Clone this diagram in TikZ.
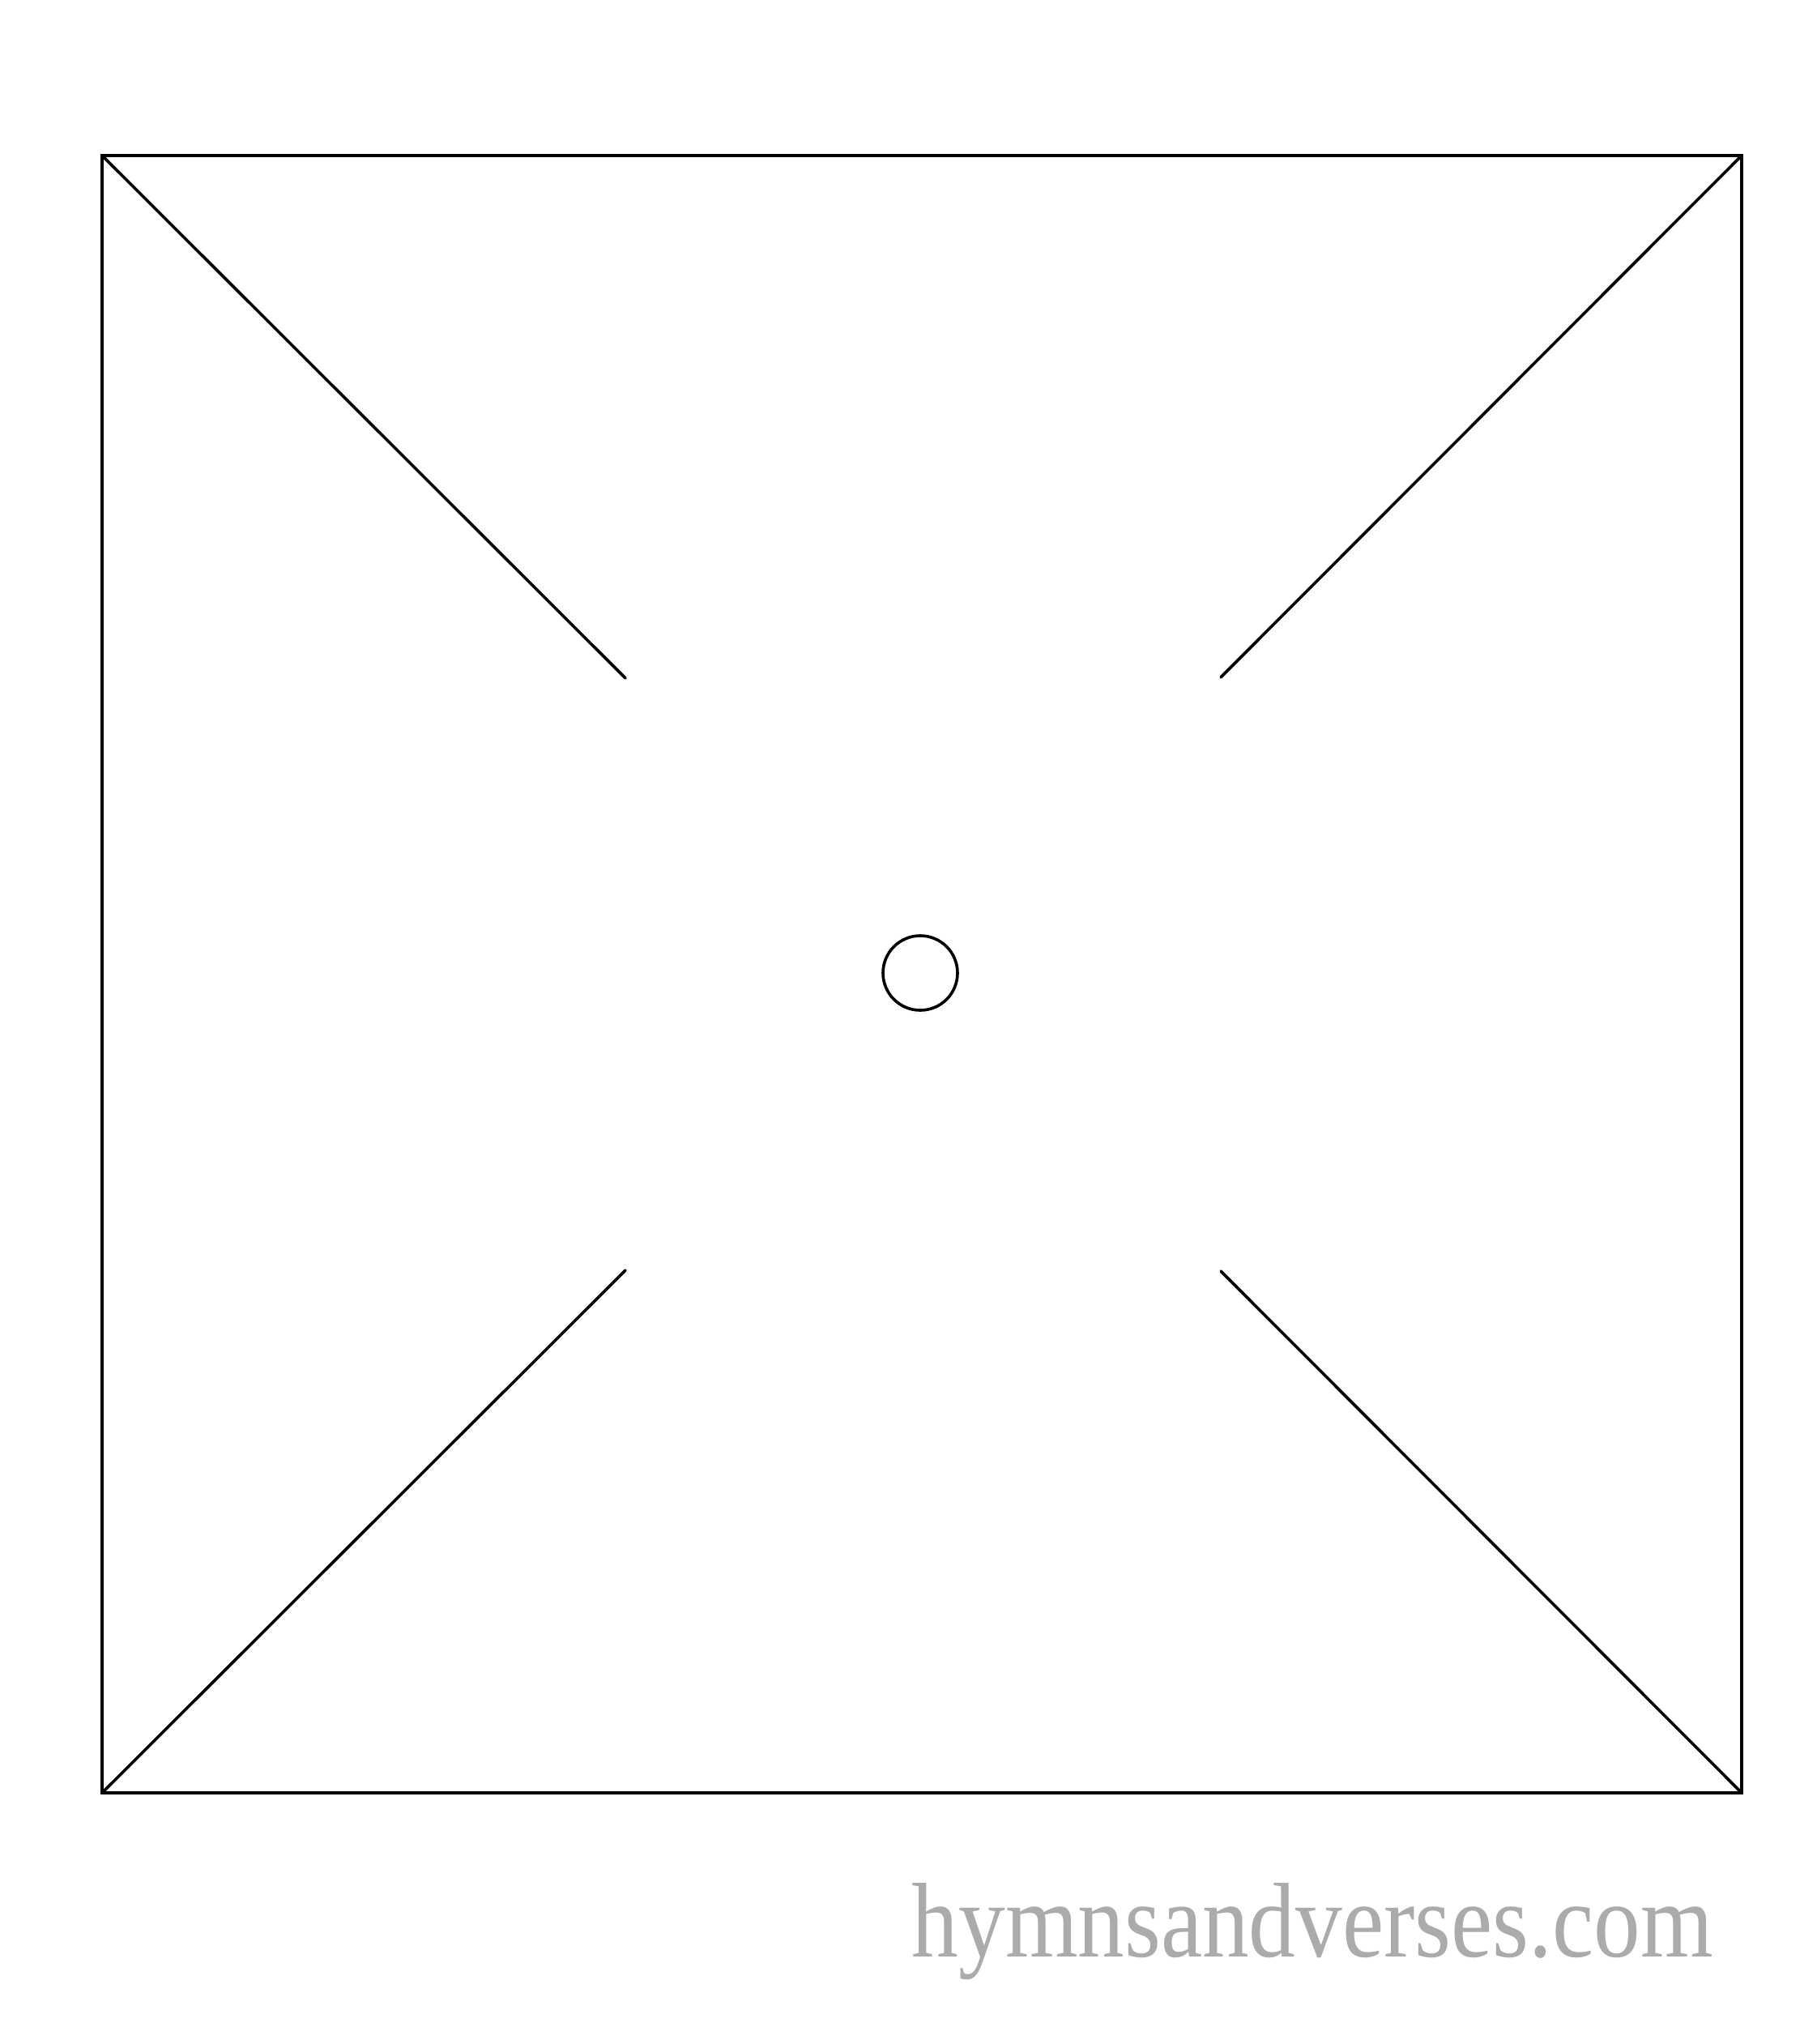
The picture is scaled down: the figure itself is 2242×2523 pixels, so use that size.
\documentclass[tikz,border=0pt]{standalone}
\usepackage{graphicx}
\usepackage{fontspec}
\newfontfamily\markfont{Liberation Serif}
\definecolor{wmgray}{HTML}{ABABAB}
\begin{document}
\begin{tikzpicture}[x=0.25pt,y=-0.25pt,
  cut/.style={line width=0.9pt,line cap=round,line join=miter},
  hole/.style={circle,draw,line width=0.9pt,minimum size=23pt,inner sep=0pt},
  watermark/.style={anchor=base west,inner sep=0pt,text=wmgray,font=\markfont}]
\useasboundingbox (0,0) rectangle (2242,2523);
\coordinate (tl) at (126,192);
\coordinate (tr) at (2150,192);
\coordinate (br) at (2150,2213);
\coordinate (bl) at (126,2213);
\coordinate (itl) at (772,837);
\coordinate (itr) at (1507,836);
\coordinate (ibl) at (772,1568);
\coordinate (ibr) at (1507,1569);
\draw[cut] (tl) -- (tr) -- (br) -- (bl) -- cycle;
\draw[cut] (tl) -- (itl);
\draw[cut] (tr) -- (itr);
\draw[cut] (bl) -- (ibl);
\draw[cut] (br) -- (ibr);
\node[hole] (hub) at (1136,1201) {};
\node[watermark] (site) at (1125,2415) {\resizebox{247.25pt}{22.75pt}{hymnsandverses.com}};
\end{tikzpicture}
\end{document}
